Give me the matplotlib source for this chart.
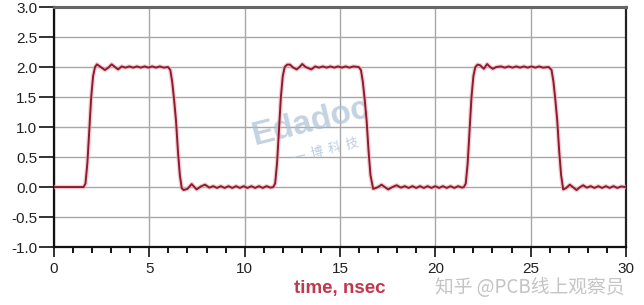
import matplotlib
matplotlib.use("Agg")
from matplotlib import pyplot as plt
from matplotlib.ticker import MultipleLocator

# waveform (time in ns, voltage in V)
t_ns = [0, 1.55, 1.65, 1.75, 1.85, 1.95, 2.05, 2.15, 2.25, 2.45, 2.67, 2.85, 3.02, 3.2, 3.36,
        3.55, 3.75, 3.95, 4.15, 4.35, 4.55, 4.75, 4.95, 5.15, 5.35, 5.55, 5.75, 5.98,
        6.1, 6.2, 6.3, 6.4, 6.5, 6.6, 6.7, 6.8, 7.0, 7.22, 7.48, 7.7, 7.92, 8.15, 8.35,
        8.55, 8.75, 8.95, 9.15, 9.35, 9.55, 9.75, 9.95, 10.15, 10.35, 10.55, 10.75, 10.95,
        11.15, 11.35, 11.5,
        11.6, 11.7, 11.8, 11.9, 12.0, 12.1, 12.23, 12.38, 12.55, 12.73, 12.88, 13.02, 13.2,
        13.5, 13.7, 13.9, 14.1, 14.3, 14.5, 14.7, 14.9, 15.1, 15.3, 15.5, 15.7, 15.98,
        16.1, 16.2, 16.3, 16.4, 16.5, 16.6, 16.74, 16.85, 17.0, 17.18, 17.53, 17.75, 17.97,
        18.2, 18.4, 18.6, 18.8, 19.0, 19.2, 19.4, 19.6, 19.8, 20.0, 20.2, 20.4, 20.6, 20.8,
        21.0, 21.2, 21.4, 21.5,
        21.6, 21.7, 21.8, 21.9, 22.0, 22.1, 22.22, 22.35, 22.55, 22.72, 22.88, 23.02, 23.2,
        23.45, 23.65, 23.85, 24.05, 24.25, 24.45, 24.65, 24.85, 25.05, 25.25, 25.45, 25.65,
        25.95, 26.1, 26.2, 26.3, 26.4, 26.5, 26.6, 26.71, 26.85, 27.06, 27.41, 27.6, 27.76,
        27.95, 28.15, 28.35, 28.55, 28.75, 28.95, 29.15, 29.35, 29.55, 29.75, 30.0]
volts = [0, 0, 0.06, 0.4, 0.95, 1.5, 1.85, 2.0, 2.045, 2.0, 1.95, 1.99, 2.045, 2.0, 1.96,
         2.01, 1.99, 2.01, 1.99, 2.01, 1.99, 2.01, 1.99, 2.01, 1.99, 2.01, 1.99, 2.0,
         1.95, 1.75, 1.45, 1.1, 0.6, 0.2, -0.02, -0.05, -0.03, 0.05, -0.04, 0.01, 0.04, -0.01,
         0.015, -0.015, 0.015, -0.015, 0.015, -0.015, 0.015, -0.015, 0.015, -0.015, 0.015,
         -0.015, 0.015, -0.015, 0.015, -0.01, 0.0,
         0.06, 0.4, 0.95, 1.5, 1.85, 2.0, 2.04, 2.04, 1.99, 1.96, 2.0, 2.05, 2.0,
         1.96, 2.01, 1.99, 2.01, 1.99, 2.01, 1.99, 2.01, 1.99, 2.01, 1.99, 2.01, 2.0,
         1.95, 1.75, 1.45, 1.1, 0.6, 0.2, -0.03, -0.02, 0.0, 0.04, -0.04, 0.0, 0.03,
         -0.01, 0.015, -0.015, 0.015, -0.015, 0.015, -0.015, 0.015, -0.015, 0.015, -0.015,
         0.015, -0.015, 0.015, -0.015, 0.015, -0.01, 0.0,
         0.06, 0.4, 0.95, 1.5, 1.85, 2.0, 2.04, 2.03, 1.97, 2.05, 2.0, 1.97, 2.0,
         2.01, 1.99, 2.01, 1.99, 2.01, 1.99, 2.01, 1.99, 2.01, 1.99, 2.01, 1.99,
         2.0, 1.95, 1.75, 1.45, 1.1, 0.6, 0.2, -0.04, -0.02, 0.04, -0.05, 0.0, 0.03,
         -0.01, 0.015, -0.015, 0.015, -0.015, 0.015, -0.015, 0.015, -0.015, 0.01, 0.0]

plt.rcParams['font.family'] = ['Liberation Sans', 'DejaVu Sans']

fig = plt.figure(figsize=(6.44, 3.05), dpi=100)
ax = fig.add_axes([0.0839, 0.19, 0.888, 0.787])

# pink halo then dark red trace
ax.plot(t_ns, volts, color='#eeb0b8', lw=3.2, alpha=0.6, solid_joinstyle='round', zorder=3)
ax.plot(t_ns, volts, color='#8e1b2e', lw=1.4, solid_joinstyle='round', zorder=4)

ax.set_xlim(0, 30)
ax.set_ylim(-1.0, 3.0)
ax.xaxis.set_major_locator(MultipleLocator(5))
ax.xaxis.set_minor_locator(MultipleLocator(1))
ax.yaxis.set_major_locator(MultipleLocator(0.5))
ax.yaxis.set_major_formatter(lambda v, p: f"{v:.1f}")
ax.grid(True, which='major', color='#a8a8a8', lw=1.0)

ax.tick_params(axis='y', length=11, width=1.3, pad=1, labelsize=11, colors='#222222')
ax.tick_params(axis='x', which='major', length=7.5, width=1.3, pad=3, labelsize=11, colors='#222222')
ax.tick_params(axis='x', which='minor', length=4, width=1.3)

ax.spines['left'].set_linewidth(1.6)
ax.spines['bottom'].set_linewidth(1.6)
ax.spines['left'].set_color('#111111')
ax.spines['bottom'].set_color('#111111')
ax.spines['top'].set_linewidth(2.2)
ax.spines['top'].set_color('#666666')
ax.spines['right'].set_linewidth(1.6)
ax.spines['right'].set_color('#222222')

ax.set_xlabel('time, nsec', fontsize=13.5, fontweight='bold', color='#c0384c', labelpad=3)

# watermarks
ax.text(0.45, 0.52, 'Edadoc', transform=ax.transAxes, fontsize=24, fontweight='bold',
        color='#a9c0d6', alpha=0.7, rotation=14, ha='center', va='center', zorder=2)
ax.text(0.475, 0.40, '一  博  科  技', transform=ax.transAxes, fontsize=9,
        family=['Noto Sans CJK SC'], color='#a9c0d6', alpha=0.8, rotation=14,
        ha='center', va='center', zorder=2)
fig.text(0.823, 0.056, '知乎 @PCB线上观察员', fontsize=13.5, family=['Noto Sans CJK SC'],
         color='#c4c4c4', ha='center', va='center')

fig.savefig('out.png', dpi=100)
